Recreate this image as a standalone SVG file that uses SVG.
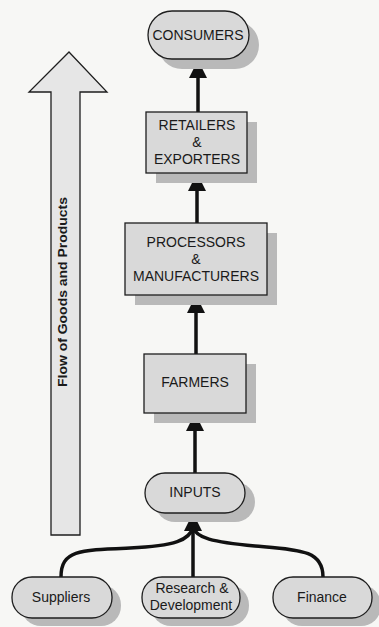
<svg xmlns="http://www.w3.org/2000/svg" width="379" height="627" viewBox="0 0 379 627">
<style>
.bg{fill:#f7f7f5}
.shadow{fill:#b9b9b9}
.node{fill:#d9d9d9;stroke:#1e1e1e;stroke-width:1.3}
.t{font-family:"Liberation Sans",Arial,sans-serif;font-size:14px;fill:#1a1a1a;text-anchor:middle}
.flow{font-family:"Liberation Sans",Arial,sans-serif;font-size:12px;font-weight:bold;fill:#1a1a1a;text-anchor:middle}
.conn{stroke:#111;stroke-width:3.5;fill:none}
.head{fill:#111}
</style>
<rect class="bg" x="0" y="0" width="379" height="627"/>

<g id="flow-arrow">
<polygon points="69,52 107,92 80,92 80,535 51,535 51,92 29,92" fill="#e6e6e6" stroke="#1e1e1e" stroke-width="1.3"/>
<text class="flow" transform="translate(67,292) rotate(-90)" textLength="190" lengthAdjust="spacingAndGlyphs">Flow of Goods and Products</text>
</g>

<g id="connectors">
<line class="conn" x1="198" y1="112" x2="198" y2="72"/>
<polygon class="head" points="198,60 207,78 189,78"/>
<line class="conn" x1="197" y1="223" x2="197" y2="185"/>
<polygon class="head" points="197,173 206,191 188,191"/>
<line class="conn" x1="196" y1="354" x2="196" y2="307"/>
<polygon class="head" points="196,295 205,313 187,313"/>
<line class="conn" x1="195" y1="473" x2="195" y2="425"/>
<polygon class="head" points="195,413 204,431 186,431"/>
<line class="conn" x1="193" y1="577" x2="193" y2="525"/>
<polygon class="head" points="193,513 202,531 184,531"/>
<path class="conn" d="M61,577 C61,550 80,550 130,548 C175,546 190,540 193,527"/>
<path class="conn" d="M323,577 C323,550 300,550 255,546 C212,542 196,538 193,527"/>
</g>

<g id="consumers">
<rect class="shadow" x="158" y="21" width="101" height="48" rx="24"/>
<rect class="node" x="148" y="11" width="101" height="48" rx="24"/>
<text class="t" x="198" y="40">CONSUMERS</text>
</g>

<g id="retailers">
<rect class="shadow" x="156" y="122" width="101" height="61"/>
<rect class="node" x="146" y="112" width="101" height="61"/>
<text class="t" x="197" y="130">RETAILERS</text>
<text class="t" x="197" y="147">&amp;</text>
<text class="t" x="197" y="164">EXPORTERS</text>
</g>

<g id="processors">
<rect class="shadow" x="135" y="233" width="142" height="72"/>
<rect class="node" x="125" y="223" width="142" height="72"/>
<text class="t" x="196" y="247">PROCESSORS</text>
<text class="t" x="196" y="264">&amp;</text>
<text class="t" x="196" y="281">MANUFACTURERS</text>
</g>

<g id="farmers">
<rect class="shadow" x="154" y="364" width="102" height="59"/>
<rect class="node" x="144" y="354" width="102" height="59"/>
<text class="t" x="195" y="387">FARMERS</text>
</g>

<g id="inputs">
<rect class="shadow" x="155" y="482" width="100" height="40" rx="20"/>
<rect class="node" x="145" y="473" width="100" height="40" rx="20"/>
<text class="t" x="195" y="497">INPUTS</text>
</g>

<g id="suppliers">
<rect class="shadow" x="21" y="585" width="100" height="41" rx="20"/>
<rect class="node" x="12" y="577" width="100" height="41" rx="20"/>
<text class="t" x="61" y="602">Suppliers</text>
</g>

<g id="research">
<rect class="shadow" x="151" y="585" width="98" height="41" rx="20"/>
<rect class="node" x="142" y="577" width="98" height="41" rx="20"/>
<text class="t" x="192" y="593">Research &amp;</text>
<text class="t" x="191" y="610">Development</text>
</g>

<g id="finance">
<rect class="shadow" x="282" y="585" width="99" height="41" rx="20"/>
<rect class="node" x="273" y="577" width="99" height="41" rx="20"/>
<text class="t" x="322" y="602">Finance</text>
</g>
</svg>
